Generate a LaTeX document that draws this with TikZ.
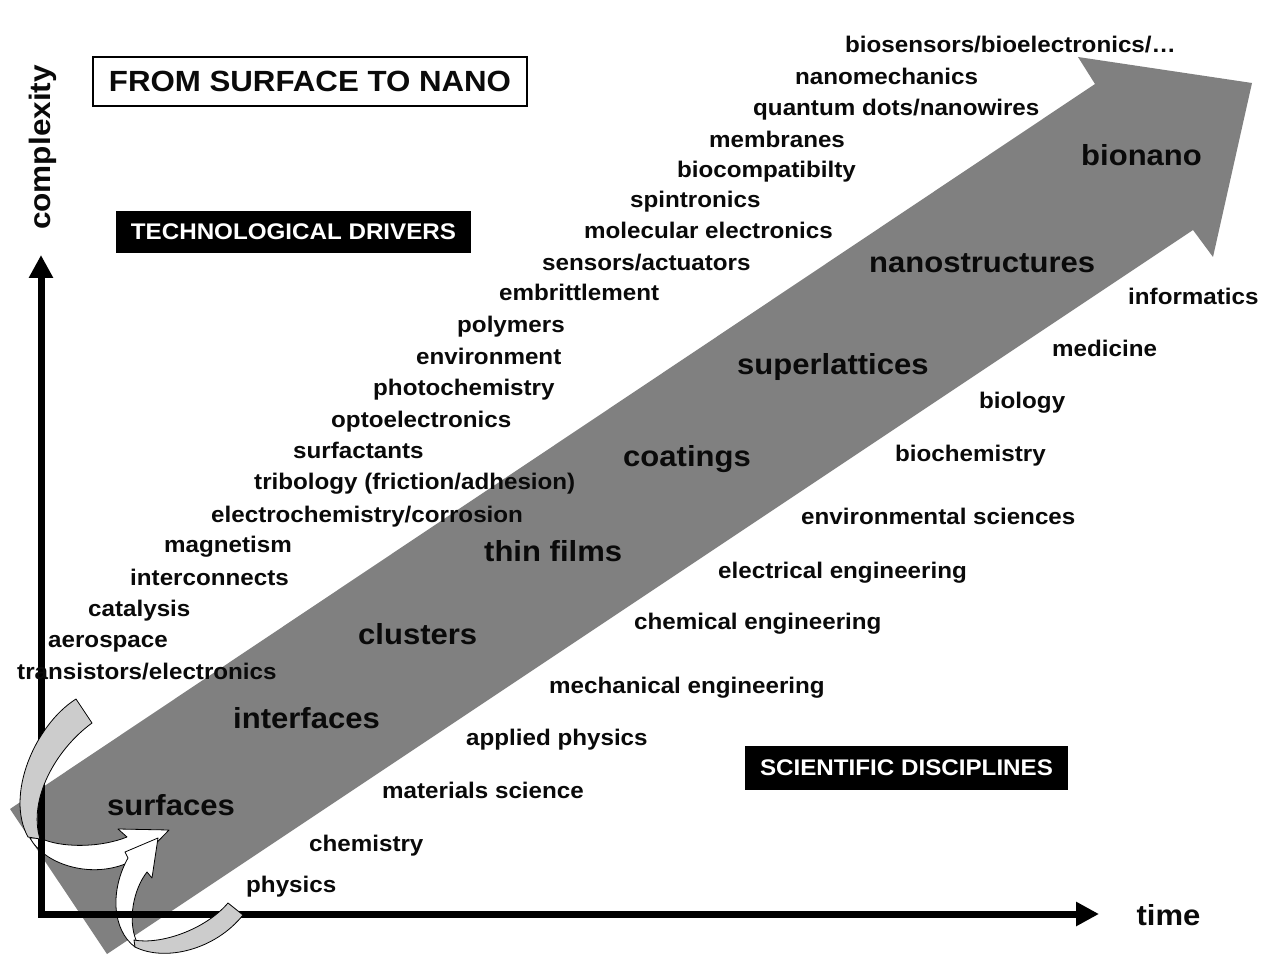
\documentclass[tikz,border=0pt]{standalone}
\usepackage{fontspec}
\setmainfont{Liberation Sans}[FakeStretch=1.07]
\usetikzlibrary{arrows.meta}
\definecolor{bandgray}{RGB}{128,128,128}
\definecolor{tailgray}{RGB}{204,204,204}
\definecolor{ink}{RGB}{10,10,10}
\begin{document}
\begin{tikzpicture}[x=1pt,y=-1pt,
  drv/.style={anchor=west,inner sep=0pt,text height=16pt,text depth=0pt,
    font=\fontsize{22.6}{26}\selectfont\bfseries,text=ink},
  big/.style={anchor=west,inner sep=0pt,text height=21pt,text depth=0pt,
    font=\fontsize{29}{33}\selectfont\bfseries,text=ink},
  tag/.style={fill=black,text=white,inner sep=0pt,
    font=\fontsize{22.6}{26}\selectfont\bfseries},
  ribfront/.style={fill=white,draw=black,line width=0.8pt,line join=round},
  ribback/.style={fill=tailgray,draw=black,line width=0.8pt,line join=round},
  axis/.style={line width=7pt,
    {Triangle[length=23pt,width=23pt]}-{Triangle[length=23pt,width=23pt]}}
]
\useasboundingbox[fill=white] (0,0) rectangle (1270,957);

% big band arrow
\fill[bandgray] (10,809) -- (1095,84) -- (1078,57) -- (1252,83) -- (1213,257)
  -- (1193,230) -- (107,954) -- cycle;

% front (white) parts of the curved arrows
\draw[ribfront] (30,838) .. controls (45,865) and (90,878) .. (125,864)
  -- (130,870) -- (169,830) -- (118,829) -- (127,837)
  .. controls (100,848) and (60,848) .. (40,838) -- cycle;
\draw[ribfront] (135,947) .. controls (112,930) and (110,890) .. (128,858)
  -- (125,852) -- (158,838) -- (152,878) -- (147,872)
  .. controls (133,890) and (128,920) .. (136,940) -- cycle;

% axes
\coordinate (ytip) at (41,255);
\coordinate (orig) at (41,914);
\coordinate (xtip) at (1099,914);
\draw[axis] (ytip) -- (orig) -- (xtip);

% back (gray) parts of the curved arrows
\draw[ribback] (76,699) -- (92,723) .. controls (55,750) and (28,800) .. (40,839)
  -- (28,837) .. controls (5,795) and (35,725) .. (76,699) -- cycle;
\draw[ribback] (228,903) -- (243,915) .. controls (215,950) and (165,962) .. (135,947)
  -- (134,940) .. controls (160,945) and (205,930) .. (228,903) -- cycle;

% axis labels
\node[anchor=base,rotate=90,inner sep=0pt,font=\fontsize{29.5}{33}\selectfont\bfseries,text=ink]
  (complexity) at (50,147.5) {complexity};
\node[anchor=base,inner sep=0pt,font=\fontsize{29}{33}\selectfont\bfseries,text=ink]
  (time) at (1168.5,925) {time};

% boxes
\node[draw=black,line width=1.3pt,fill=white,minimum width=434pt,minimum height=49pt,inner sep=0pt,
  font=\fontsize{29.2}{33}\selectfont\bfseries,text=ink] (title) at (310,81.5) {FROM SURFACE TO NANO};
\node[tag,minimum width=355pt,minimum height=42pt] (tech) at (293.5,232) {TECHNOLOGICAL DRIVERS};
\node[tag,minimum width=323pt,minimum height=44pt] (sci) at (906.5,768) {SCIENTIFIC DISCIPLINES};

% technological drivers
\node[drv] (d1) at (845,45) {biosensors/bioelectronics/…};
\node[drv] (d2) at (795,77) {nanomechanics};
\node[drv] (d3) at (753,108) {quantum dots/nanowires};
\node[drv] (d4) at (709,140) {membranes};
\node[drv] (d5) at (677,170) {biocompatibilty};
\node[drv] (d6) at (630,200) {spintronics};
\node[drv] (d7) at (584,231) {molecular electronics};
\node[drv] (d8) at (542,263) {sensors/actuators};
\node[drv] (d9) at (499,293) {embrittlement};
\node[drv] (d10) at (457,325) {polymers};
\node[drv] (d11) at (416,357) {environment};
\node[drv] (d12) at (373,388) {photochemistry};
\node[drv] (d13) at (331,420) {optoelectronics};
\node[drv] (d14) at (293,451) {surfactants};
\node[drv] (d15) at (254,482) {tribology (friction/adhesion)};
\node[drv] (d16) at (211,514) {electrochemistry/corrosion};
\node[drv] (d17) at (164,545) {magnetism};
\node[drv] (d18) at (130,577) {interconnects};
\node[drv] (d19) at (88,608) {catalysis};
\node[drv] (d20) at (48,639) {aerospace};
\node[drv] (d21) at (17,671) {transistors/electronics};

% stages on the band
\node[big] (s1) at (107,805) {surfaces};
\node[big] (s2) at (233,718) {interfaces};
\node[big] (s3) at (358,634) {clusters};
\node[big] (s4) at (484,551) {thin films};
\node[big] (s5) at (623,456) {coatings};
\node[big] (s6) at (737,364) {superlattices};
\node[big] (s7) at (869,262) {nanostructures};
\node[big] (s8) at (1081,155) {bionano};

% scientific disciplines
\node[drv] (c1) at (1128,297) {informatics};
\node[drv] (c2) at (1052,349) {medicine};
\node[drv] (c3) at (979,401) {biology};
\node[drv] (c4) at (895,454) {biochemistry};
\node[drv] (c5) at (801,517) {environmental sciences};
\node[drv] (c6) at (718,570) {electrical engineering};
\node[drv] (c7) at (634,621) {chemical engineering};
\node[drv] (c8) at (549,685) {mechanical engineering};
\node[drv] (c9) at (466,737) {applied physics};
\node[drv] (c10) at (382,790) {materials science};
\node[drv] (c11) at (309,843) {chemistry};
\node[drv] (c12) at (246,884) {physics};
\end{tikzpicture}
\end{document}
